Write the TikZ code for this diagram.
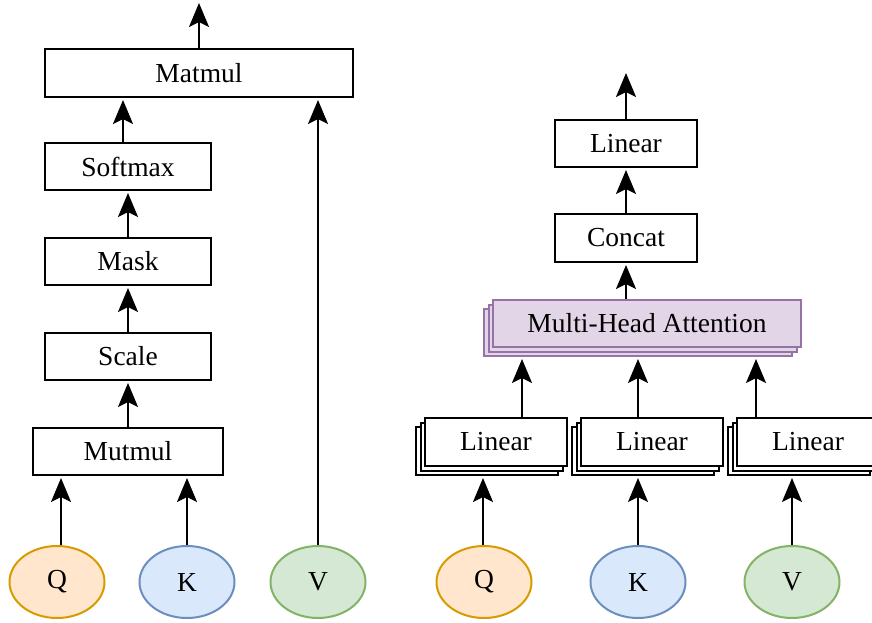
\documentclass[tikz,border=0pt]{standalone}
\usepackage{fontspec}
\setmainfont{Liberation Serif}
\usetikzlibrary{shapes.geometric,arrows.meta}
\definecolor{qfill}{HTML}{FFE6CC}\definecolor{qline}{HTML}{D79B00}
\definecolor{kfill}{HTML}{DAE8FC}\definecolor{kline}{HTML}{6C8EBF}
\definecolor{vfill}{HTML}{D5E8D4}\definecolor{vline}{HTML}{82B366}
\definecolor{mfill}{HTML}{E1D5E7}\definecolor{mline}{HTML}{9673A6}
\tikzset{
  box/.style={draw=black, fill=white, line width=2pt, rectangle, inner sep=0pt,
    minimum width=#1, minimum height=47pt, font=\fontsize{27.5}{30}\selectfont},
  box/.default=166pt,
  mhabox/.style={box=308pt, draw=mline, fill=mfill},
  inp/.style={ellipse, line width=2pt, inner sep=0pt, minimum width=95pt, minimum height=72pt,
    font=\fontsize{27.5}{30}\selectfont},
  arr/.style={line width=2pt, -{Stealth[length=24pt,width=20pt,inset=5pt]}, shorten >=2pt},
}
\begin{document}
\begin{tikzpicture}[x=1pt,y=-1pt]
\useasboundingbox (0,0) rectangle (872,623);
\clip (0,0) rectangle (872,623);
% left
\node[box=308pt, minimum height=48pt] (matmul) at (199,73) {Matmul};
\node[box] (softmax) at (128,166.5) {Softmax};
\node[box] (mask) at (128,261.5) {Mask};
\node[box] (scale) at (128,356.5) {Scale};
\node[box=190pt] (mutmul) at (128,451.5) {Mutmul};
\node[inp, draw=qline, fill=qfill] (q) at (57,582) {Q};
\node[inp, draw=kline, fill=kfill] (k) at (187,582) {K};
\node[inp, draw=vline, fill=vfill] (v) at (318,582) {V};
\coordinate (out1) at (199,1);
\draw[arr] ([xshift=4pt]q.north) -- ([xshift=4pt]q.north |- mutmul.south);
\draw[arr] (k.north) -- (k.north |- mutmul.south);
\draw[arr] (v.north) -- (v.north |- matmul.south);
\draw[arr] (mutmul.north) -- (scale.south);
\draw[arr] (scale.north) -- (mask.south);
\draw[arr] (mask.north) -- (softmax.south);
\draw[arr] ([xshift=-5pt]softmax.north) -- ([xshift=-5pt]softmax.north |- matmul.south);
\draw[arr] (matmul.north) -- (out1);
% right
\node[box=142pt] (lintop) at (626,143.5) {Linear};
\node[box=142pt, minimum height=48pt] (concat) at (626,238) {Concat};
\node[mhabox] (mhab) at (638,332.5) {};
\node[mhabox] (mham) at (642.5,328) {};
\node[mhabox] (mha) at (647,323.5) {Multi-Head Attention};
\foreach \n/\cx in {1/496,2/652,3/808}{
  \node[box=142pt, minimum height=48pt] (l\n b) at (\cx-9,451) {};
  \node[box=142pt, minimum height=48pt] (l\n m) at (\cx-4.5,446.5) {};
  \node[box=142pt, minimum height=48pt] (l\n) at (\cx,442) {Linear};
}
\node[inp, draw=qline, fill=qfill] (q2) at (484,582) {Q};
\node[inp, draw=kline, fill=kfill] (k2) at (638,582) {K};
\node[inp, draw=vline, fill=vfill] (v2) at (792,582) {V};
\coordinate (out2) at (626,71);
\draw[arr] ([xshift=-1pt]q2.north) -- ([xshift=-1pt]q2.north |- l1b.south);
\draw[arr] (k2.north) -- (k2.north |- l2b.south);
\draw[arr] (v2.north) -- (v2.north |- l3b.south);
\draw[arr] ([xshift=26pt]l1.north) -- ([xshift=26pt]l1.north |- mhab.south);
\draw[arr] (k2.north |- l2.north) -- (k2.north |- mhab.south);
\draw[arr] ([xshift=-52pt]l3.north) -- ([xshift=-52pt]l3.north |- mhab.south);
\draw[arr] (concat.south |- mha.north) -- (concat.south);
\draw[arr] (concat.north) -- (lintop.south);
\draw[arr] (lintop.north) -- (out2);
\end{tikzpicture}
\end{document}
